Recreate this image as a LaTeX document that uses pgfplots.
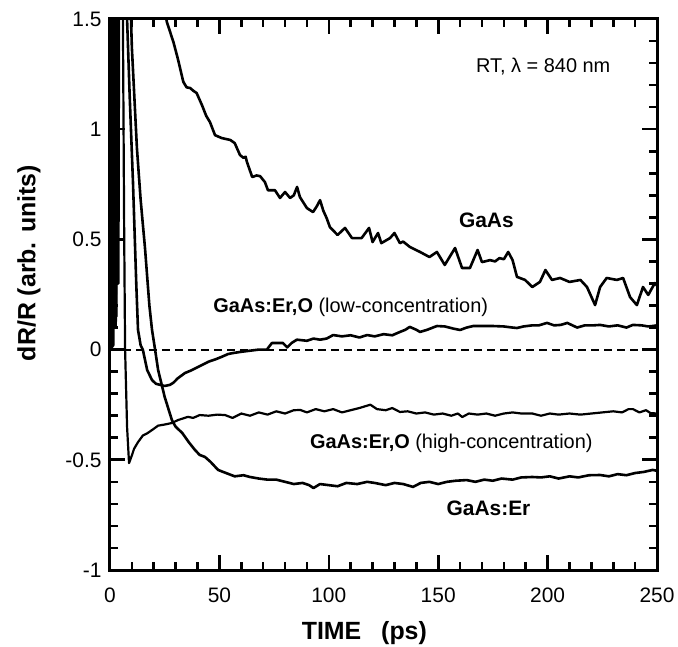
\documentclass[border=0pt]{standalone}
\usepackage{fontspec}
\setmainfont{Liberation Sans}
\usepackage{pgfplots}
\pgfplotsset{compat=1.18}

% GaAs
\pgfplotstableread{
t y
0 0
0.4 4
0.9 0.1
1.4 4
2.0 0.2
2.6 4
10 2.5
20 1.8
26 1.486
29 1.395
31 1.32
33.5 1.215
35 1.19
36.6 1.187
38 1.175
39.6 1.164
42 1.11
44 1.06
45.7 1.032
48 0.973
51 0.96
55 0.951
57 0.937
59.4 0.883
61 0.87
62 0.875
62.6 0.851
65 0.783
67 0.79
68.6 0.787
70.8 0.76
72.2 0.723
75.4 0.723
77.7 0.688
80 0.715
82.3 0.688
84 0.70
85.5 0.738
86.8 0.692
90 0.642
92.8 0.624
94.5 0.65
96 0.678
97.5 0.63
99 0.597
100.5 0.556
104 0.52
107.4 0.552
110.6 0.506
115 0.506
118.4 0.552
120 0.488
122.5 0.529
124 0.483
128 0.506
130 0.529
132.5 0.483
134 0.49
137 0.466
141.7 0.443
146 0.42
149.4 0.443
153 0.384
157.7 0.461
160.9 0.37
164.5 0.37
168 0.452
170 0.397
173.7 0.406
176 0.40
178 0.415
180 0.41
182 0.443
184 0.406
186 0.33
189.7 0.316
193 0.284
196.5 0.307
199 0.361
202 0.316
205.7 0.325
210 0.307
215 0.316
218 0.284
221.7 0.202
224 0.284
227 0.325
231.7 0.316
234.5 0.325
237.7 0.238
240.8 0.202
243.6 0.284
246 0.248
249 0.302
250 0.29
}\gaas

% GaAs:Er,O low concentration
\pgfplotstableread{
t y
0 0
1.5 0.02
2.0 3
2.6 0.1
3.2 3
3.8 0.3
4.4 3
7 1.75
7.8 1.5
9 1.15
10.5 0.76
12 0.3
12.8 0.09
14 0.02
15 0
17 -0.093
19.2 -0.138
21 -0.155
22.9 -0.16
25 -0.165
27.4 -0.16
29 -0.15
31 -0.13
34.3 -0.106
37 -0.095
40 -0.08
42 -0.07
45 -0.055
48 -0.045
51 -0.033
54 -0.02
56 -0.016
60 -0.01
64 -0.005
68 0
71.7 0
74 0.03
76 0.03
79 0.03
81 0.01
83 0.03
85.4 0.045
90 0.04
93 0.05
96 0.045
99 0.05
102 0.066
106 0.06
110 0.065
114 0.055
117.5 0.066
121 0.06
125 0.07
129 0.065
132.5 0.08
135 0.09
137 0.103
140 0.09
141.7 0.08
145 0.09
149.4 0.107
153 0.105
157 0.095
160 0.089
163 0.1
166 0.107
170.5 0.107
175 0.107
180 0.105
184 0.1
186 0.098
189 0.105
193 0.11
196 0.11
199.7 0.121
203 0.11
206 0.112
209 0.121
213.5 0.10
217 0.11
221 0.11
224 0.112
228 0.105
232 0.11
236 0.1
239 0.112
243 0.11
246 0.105
248 0.107
250 0.11
}\low

% GaAs:Er,O high concentration
\pgfplotstableread{
t y
0 0
0.8 0.02
1.2 3
1.8 0.1
2.4 3
3.0 0.15
3.5 3
5.5 1.6
5.9 1.5
6.5 0.5
6.9 0
7.8 -0.35
8.7 -0.515
10 -0.48
11 -0.45
12.8 -0.42
15 -0.39
17 -0.38
19.2 -0.365
22 -0.345
25 -0.34
28.3 -0.333
31 -0.32
35.6 -0.305
38 -0.31
41 -0.297
45 -0.30
49 -0.295
52.6 -0.297
56 -0.31
60 -0.29
64 -0.30
68 -0.285
72 -0.295
76 -0.28
80 -0.29
84 -0.275
87 -0.274
90 -0.285
94 -0.27
98 -0.28
102 -0.27
106 -0.285
110 -0.275
114 -0.265
119 -0.25
122 -0.27
126 -0.275
129 -0.265
132.5 -0.283
136 -0.28
140 -0.29
144 -0.285
148 -0.295
152 -0.29
156 -0.30
159 -0.29
161 -0.306
164 -0.29
168 -0.295
172 -0.29
176 -0.30
180 -0.29
184 -0.285
188 -0.29
193 -0.29
197 -0.30
201 -0.29
205 -0.295
210 -0.29
215 -0.295
220 -0.29
225 -0.285
230 -0.28
234 -0.285
237 -0.27
239 -0.27
242 -0.285
245 -0.275
247 -0.288
250 -0.29
}\high

% GaAs:Er
\pgfplotstableread{
t y
0 0
0.3 0.02
0.8 3
1.4 0.1
2.0 3
2.7 0.25
3.3 3
8 1.7
9.6 1.5
10 1.37
12.3 0.915
14 0.68
16 0.46
18 0.2
19.2 0.09
20.6 0
22 -0.093
25 -0.215
28.3 -0.32
30 -0.35
33 -0.378
36 -0.42
38.8 -0.455
41 -0.478
43.4 -0.487
46 -0.51
49.4 -0.546
53 -0.56
57 -0.575
61 -0.57
64 -0.578
68 -0.585
72 -0.59
76 -0.59
80 -0.6
84 -0.61
88 -0.605
91 -0.615
93 -0.628
96 -0.61
100 -0.615
104 -0.62
108 -0.605
113 -0.61
117.5 -0.6
121 -0.605
126 -0.615
130 -0.605
134 -0.61
138.5 -0.623
142 -0.605
146 -0.6
150 -0.61
154 -0.6
158 -0.595
163 -0.592
167 -0.6
171 -0.59
175 -0.595
179 -0.585
184 -0.59
188 -0.58
193 -0.578
197 -0.58
201 -0.575
205 -0.585
210 -0.575
214 -0.58
219 -0.57
224 -0.569
228 -0.575
232 -0.565
236 -0.57
240 -0.56
244 -0.555
248 -0.546
250 -0.55
}\erdoped

\begin{document}
\begin{tikzpicture}
\useasboundingbox (-110bp,-77bp) rectangle (568bp,570bp);
\begin{axis}[
  at={(0,0)}, anchor=south west,
  width=547bp, height=551bp, scale only axis,
  xmin=0, xmax=250, ymin=-1, ymax=1.5,
  xtick={0,50,100,150,200,250},
  xticklabels={0,50,100,150,200,250},
  ytick={-1,-0.5,0,0.5,1,1.5},
  yticklabels={-1,-0.5,0,0.5,1,1.5},
  minor x tick num=4, minor y tick num=4,
  tick align=inside,
  major tick length=15bp, minor tick length=8bp,
  axis line style={line width=3bp},
  major tick style={line width=2.6bp, black},
  minor tick style={line width=2.6bp, black},
  tick label style={font=\fontsize{21}{25}\selectfont},
  xticklabel style={yshift=-14bp},
  yticklabel style={xshift=-5bp},
  xlabel={\bfseries TIME\hspace{0.8em}(ps)},
  ylabel={\bfseries dR/R (arb. units)},
  label style={font=\fontsize{25}{30}\selectfont},
  xlabel style={at={(axis description cs:0.465,-0.1143)}, anchor=center},
  ylabel style={at={(axis description cs:-0.148,0.557)}, anchor=center},
]
\addplot[black, no markers, line width=2bp, dash pattern=on 8bp off 5bp] coordinates {(0,0) (250,0)};
\addplot[black, no markers, line width=2.2bp, line join=round] table[x=t,y=y] {\high};
\addplot[black, no markers, line width=2.6bp, line join=round] table[x=t,y=y] {\low};
\addplot[black, no markers, line width=2.6bp, line join=round] table[x=t,y=y] {\erdoped};
\addplot[black, no markers, line width=2.6bp, line join=round] table[x=t,y=y] {\gaas};

\node[font=\fontsize{20}{24}\selectfont] at (axis cs:198,1.282) {RT, λ = 840 nm};
\node[font=\fontsize{21}{25}\selectfont\bfseries] at (axis cs:172,0.587) {GaAs};
\node[font=\fontsize{20}{24}\selectfont] at (axis cs:110,0.193) {\textbf{GaAs:Er,O} (low-concentration)};
\node[font=\fontsize{20}{24}\selectfont] at (axis cs:156,-0.424) {\textbf{GaAs:Er,O} (high-concentration)};
\node[font=\fontsize{21}{25}\selectfont\bfseries] at (axis cs:173,-0.719) {GaAs:Er};
\end{axis}
\end{tikzpicture}
\end{document}
